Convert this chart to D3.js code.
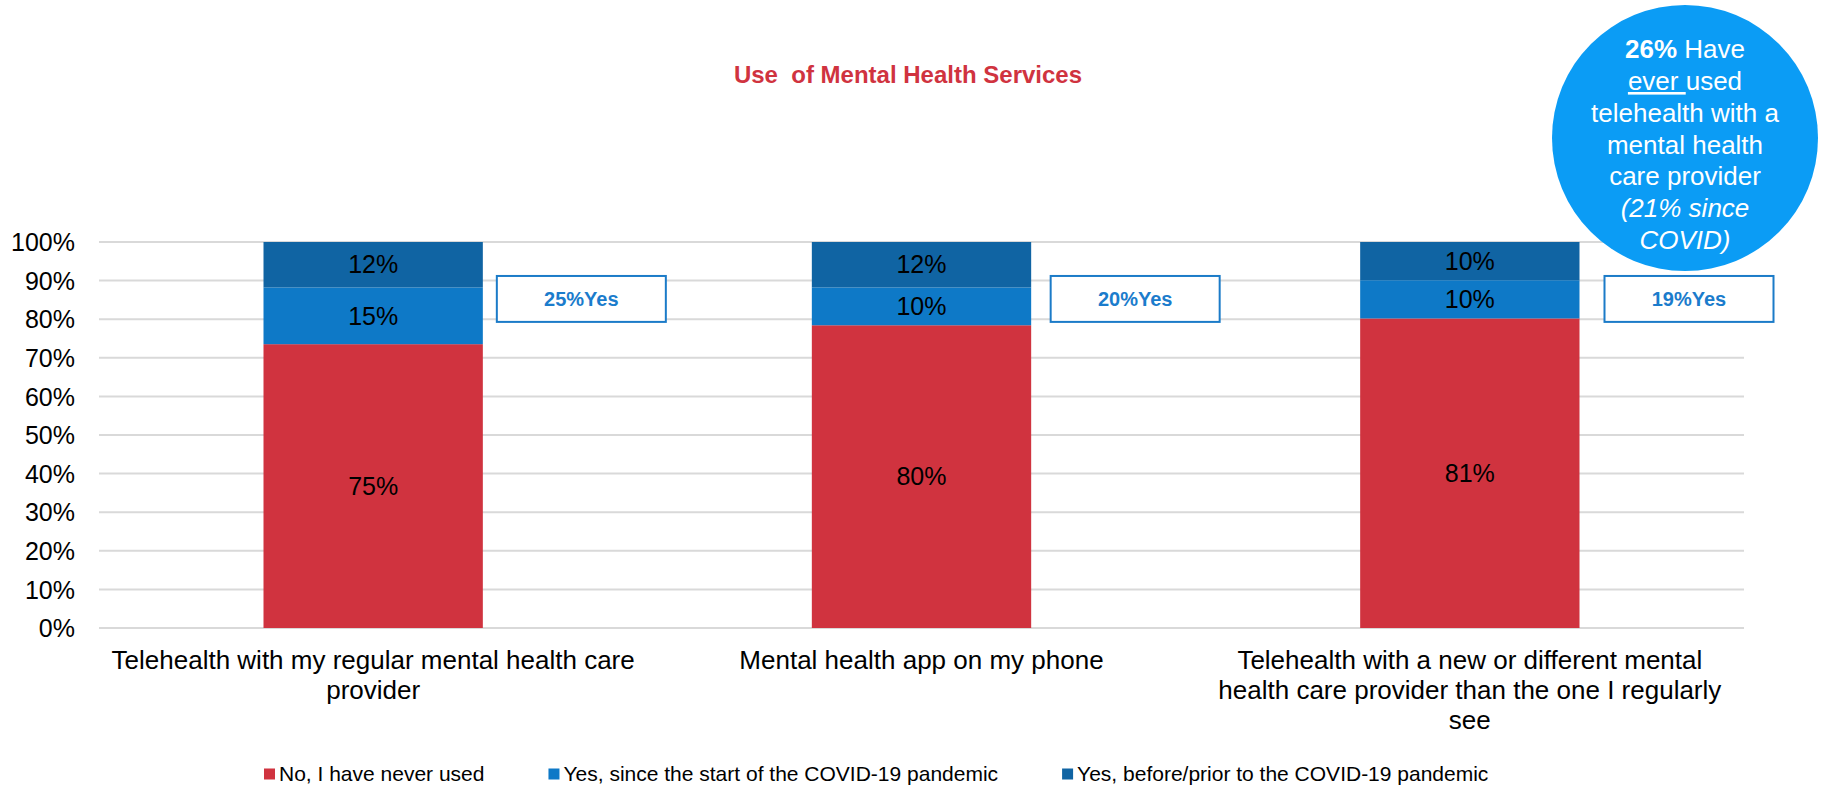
<!DOCTYPE html>
<html lang="en">
  <head>
    <meta charset="UTF-8" />
    <script src="https://d3js.org/d3.v7.min.js"></script>
    <style>
      body { margin: 0; background: #fff; }
      text { font-family: "Liberation Sans", Arial, sans-serif; }
    </style>
  </head>

  <body>
    <script>
      var width = 1827,
        height = 786;

      // data
      var categories = [
        "Telehealth with my regular mental health care provider",
        "Mental health app on my phone",
        "Telehealth with a new or different mental health care provider than the one I regularly see"
      ];
      var seriesNames = [
        "No, I have never used",
        "Yes, since the start of the COVID-19 pandemic",
        "Yes, before/prior to the COVID-19 pandemic"
      ];
      var neverUsed = [75, 80, 81];
      var sinceCovid = [15, 10, 10];
      var beforeCovid = [12, 12, 10];
      var yesTotals = [25, 20, 19];
      var colors = ["#d0333f", "#0e79c7", "#1064a3"];

      var margin = { top: 242, right: 83, bottom: 158, left: 99 };
      var innerW = width - margin.left - margin.right,
        innerH = height - margin.top - margin.bottom;

      var svg = d3
        .select("body")
        .append("svg")
        .attr("width", width)
        .attr("height", height);

      var rows = categories.map(function (c, i) {
        return { cat: c, never: neverUsed[i], since: sinceCovid[i], before: beforeCovid[i] };
      });
      var keys = ["never", "since", "before"];
      var labels = { never: neverUsed, since: sinceCovid, before: beforeCovid };

      // 100% stacked, like the original
      var stacked = d3.stack().keys(keys).offset(d3.stackOffsetExpand)(rows);

      var x = d3
        .scaleBand()
        .domain(categories)
        .range([0, innerW])
        .paddingInner(0.6)
        .paddingOuter(0.3);

      var y = d3.scaleLinear().domain([0, 1]).range([innerH, 0]);

      var g = svg
        .append("g")
        .attr("transform", "translate(" + margin.left + "," + margin.top + ")");

      // title
      svg
        .append("text")
        .attr("x", 908)
        .attr("y", 83)
        .attr("text-anchor", "middle")
        .style("font-size", "24px")
        .style("font-weight", "bold")
        .style("fill", "#d0333f")
        .style("white-space", "pre")
        .text("Use  of Mental Health Services");

      // gridlines
      g.append("g")
        .selectAll("line")
        .data(y.ticks(10))
        .enter()
        .append("line")
        .attr("x1", 0)
        .attr("x2", innerW)
        .attr("y1", function (d) { return y(d); })
        .attr("y2", function (d) { return y(d); })
        .attr("stroke", "#d9d9d9")
        .attr("stroke-width", 2);

      // y axis
      var yAxis = g
        .append("g")
        .attr("transform", "translate(-24,0)")
        .call(d3.axisLeft(y).ticks(10).tickFormat(d3.format(".0%")).tickSize(0));
      yAxis.select(".domain").remove();
      yAxis
        .selectAll("text")
        .style("font-size", "25px")
        .style("fill", "#000")
        .attr("dy", "0.35em")
        .attr("x", 0);

      // bars
      var layer = g
        .selectAll("g.layer")
        .data(stacked)
        .enter()
        .append("g")
        .attr("class", "layer")
        .attr("fill", function (d, i) { return colors[i]; });

      layer
        .selectAll("rect")
        .data(function (d) { return d; })
        .enter()
        .append("rect")
        .attr("x", function (d) { return x(d.data.cat); })
        .attr("y", function (d) { return y(d[1]); })
        .attr("width", x.bandwidth())
        .attr("height", function (d) { return y(d[0]) - y(d[1]); });

      layer
        .selectAll("text")
        .data(function (d) {
          return d.map(function (p, i) { return { p: p, v: labels[d.key][i] }; });
        })
        .enter()
        .append("text")
        .attr("x", function (d) { return x(d.p.data.cat) + x.bandwidth() / 2; })
        .attr("y", function (d) { return (y(d.p[0]) + y(d.p[1])) / 2; })
        .attr("dy", "0.35em")
        .attr("text-anchor", "middle")
        .style("font-size", "25px")
        .style("fill", "#000")
        .text(function (d) { return d.v + "%"; });

      // "Yes" boxes
      var boxH = y(0.793) - y(0.912);
      var boxes = g
        .selectAll("g.yesbox")
        .data(categories)
        .enter()
        .append("g")
        .attr("class", "yesbox")
        .attr("transform", function (d, i) {
          return "translate(" + (x(d) + x.bandwidth() + 14 + i * 5.5) + "," + y(0.912) + ")";
        });
      boxes
        .append("rect")
        .attr("width", 169)
        .attr("height", boxH)
        .attr("fill", "#fff")
        .attr("stroke", "#1b7bc8")
        .attr("stroke-width", 2);
      boxes
        .append("text")
        .attr("x", 84.5)
        .attr("y", boxH / 2)
        .attr("dy", "0.35em")
        .attr("text-anchor", "middle")
        .style("font-size", "20px")
        .style("font-weight", "bold")
        .style("fill", "#1b7ccc")
        .text(function (d, i) { return yesTotals[i] + "%Yes"; });

      // category labels
      g.append("g")
        .selectAll("text")
        .data(categories)
        .enter()
        .append("text")
        .attr("x", function (d) { return x(d) + x.bandwidth() / 2; })
        .attr("y", innerH + 41)
        .attr("text-anchor", "middle")
        .style("font-size", "26px")
        .style("fill", "#000")
        .text(function (d) { return d; })
        .call(wrap, 535);

      function wrap(sel, maxW) {
        sel.each(function () {
          var t = d3.select(this),
            words = t.text().split(/\s+/),
            cx = t.attr("x"),
            line = [];
          t.text(null);
          var span = t.append("tspan").attr("x", cx).attr("dy", 0);
          words.forEach(function (w) {
            line.push(w);
            span.text(line.join(" "));
            if (span.node().getComputedTextLength() > maxW && line.length > 1) {
              line.pop();
              span.text(line.join(" "));
              line = [w];
              span = t.append("tspan").attr("x", cx).attr("dy", 30).text(w);
            }
          });
        });
      }

      // legend
      var legend = svg.append("g").attr("transform", "translate(264,774)");
      var lx = 0;
      seriesNames.forEach(function (name, i) {
        var item = legend.append("g").attr("transform", "translate(" + lx + ",0)");
        item
          .append("rect")
          .attr("x", 0)
          .attr("y", -5.5)
          .attr("width", 11)
          .attr("height", 11)
          .attr("fill", colors[i]);
        var t = item
          .append("text")
          .attr("x", 15)
          .attr("dy", "0.35em")
          .style("font-size", "21px")
          .style("fill", "#000")
          .text(name);
        lx += 15 + t.node().getComputedTextLength() + 64;
      });

      // callout bubble
      var bubble = svg.append("g").attr("transform", "translate(1685,138)");
      bubble.append("circle").attr("r", 133).attr("fill", "#0b9cf5");
      var bt = bubble
        .append("text")
        .attr("text-anchor", "middle")
        .style("font-size", "26px")
        .style("fill", "#fff");
      var l1 = bt.append("tspan").attr("x", 0).attr("y", -80);
      l1.append("tspan").style("font-weight", "bold").text("26%");
      l1.append("tspan").text(" Have");
      var l2 = bt.append("tspan").attr("x", 0).attr("y", -48);
      l2.append("tspan").style("text-decoration", "underline").style("white-space", "pre").text("ever ");
      l2.append("tspan").text("used");
      ["telehealth with a", "mental health", "care provider"].forEach(function (s, i) {
        bt.append("tspan").attr("x", 0).attr("y", -16 + i * 31.7).text(s);
      });
      ["(21% since", "COVID)"].forEach(function (s, i) {
        bt.append("tspan")
          .attr("x", 0)
          .attr("y", 79 + i * 31.7)
          .style("font-style", "italic")
          .text(s);
      });
    </script>
  </body>
</html>
